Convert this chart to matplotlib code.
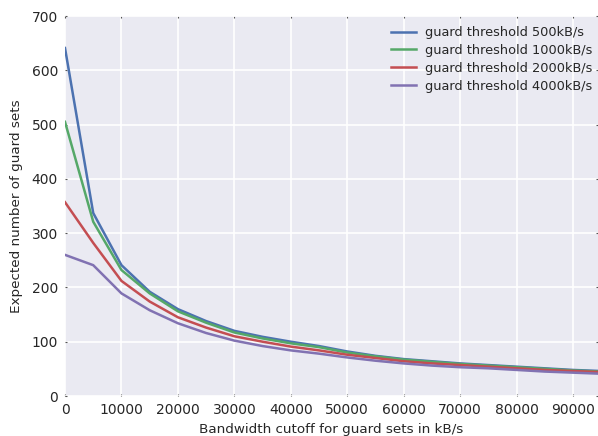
import matplotlib
matplotlib.use('Agg')
import matplotlib.pyplot as plt

# bandwidth cutoff (kB/s)
cutoff = [0, 5000, 10000, 15000, 20000, 25000, 30000, 35000, 40000, 45000,
          50000, 55000, 60000, 65000, 70000, 75000, 80000, 85000, 90000, 95000]
g500 = [641, 337, 241, 192, 160, 138, 120, 109, 100, 92,
        82, 74, 68, 64, 60, 57, 54, 51, 48, 46]
g1000 = [505, 321, 232, 189, 156, 135, 117, 106, 97, 90,
         80, 73, 67, 63, 59, 56, 53, 50, 47, 45]
g2000 = [357, 282, 212, 174, 145, 126, 110, 100, 91, 84,
         76, 70, 64, 60, 57, 54, 51, 48, 46, 44]
g4000 = [260, 241, 189, 158, 134, 116, 102, 92, 84, 78,
         71, 65, 60, 56, 53, 51, 48, 45, 43, 41]
labels = ['guard threshold 500kB/s', 'guard threshold 1000kB/s',
          'guard threshold 2000kB/s', 'guard threshold 4000kB/s']
colors = ['#4C72B0', '#55A868', '#C44E52', '#8172B2']

fig = plt.figure(figsize=(5.98, 4.36), dpi=100)
ax = fig.add_axes([65/598., 40/436., 533/598., 380/436.])
ax.set_facecolor('#EAEAF2')
for s in ax.spines.values():
    s.set_visible(False)
ax.grid(True, color='white', linewidth=1.2)
ax.set_axisbelow(True)

for ys, lab, c in zip([g500, g1000, g2000, g4000], labels, colors):
    ax.plot(cutoff, ys, color=c, linewidth=1.8, label=lab)

ax.set_xlim(0, 94400)
ax.set_ylim(0, 700)
ax.set_xticks(range(0, 95000, 10000))
ax.set_yticks(range(0, 701, 100))
ax.tick_params(direction='in', length=1.5, width=0.8, color='#555555',
               top=True, right=True, labelsize=10, labelcolor='#262626', pad=5)
ax.set_xlabel('Bandwidth cutoff for guard sets in kB/s', fontsize=9.7,
              color='#262626', labelpad=4)
ax.set_ylabel('Expected number of guard sets', fontsize=9.7, color='#262626', labelpad=6)
leg = ax.legend(loc='upper right', bbox_to_anchor=(1.0, 0.987), frameon=False,
                fontsize=9.3, handlelength=2.0, handletextpad=0.7,
                labelspacing=0.38, borderpad=0.2, borderaxespad=0.2)
for t in leg.get_texts():
    t.set_color('#262626')

fig.savefig('out.png', dpi=100)
